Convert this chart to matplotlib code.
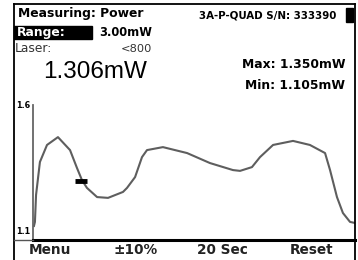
import matplotlib
matplotlib.use("Agg")
import matplotlib.pyplot as plt
from matplotlib.lines import Line2D

# trace (seconds, mW)
t_sec = [0.06, 0.12, 0.19, 0.43, 0.87, 1.55, 2.30, 2.73, 3.04, 3.35, 3.98, 4.66,
         5.59, 5.84, 6.34, 6.77, 7.08, 8.07, 9.57, 10.99, 12.42, 12.86, 13.60,
         14.10, 14.91, 16.15, 17.20, 18.14, 18.45, 18.88, 19.25, 19.69, 20.0]
power_mw = [1.152, 1.167, 1.267, 1.389, 1.452, 1.481, 1.433, 1.367, 1.322, 1.293,
            1.259, 1.256, 1.278, 1.293, 1.333, 1.407, 1.433, 1.444, 1.422, 1.385,
            1.359, 1.356, 1.370, 1.407, 1.452, 1.467, 1.452, 1.422, 1.359, 1.259,
            1.200, 1.167, 1.163]
cursor_t, cursor_v = 3.0, 1.32
y_min, y_max = 1.1, 1.6
window_sec = 20

reading = "1.306mW"
max_txt = "Max: 1.350mW"
min_txt = "Min: 1.105mW"
softkeys = ["Menu", "\u00b110%", "20 Sec", "Reset"]
softkey_x = [50, 136, 222, 312]

W, H = 358, 260
LCD = "DejaVu Sans"
BIG = "Liberation Sans"


def fx(x):
    return x / W


def fy(y):
    return 1 - y / H


fig = plt.figure(figsize=(W / 100, H / 100), dpi=100)
fig.patch.set_facecolor("white")

# screen frame
for xs, ys, lw, c in [
    ((14, 14), (4, 260), 1.3, "black"),
    ((14, 355), (4, 4), 1.3, "black"),
    ((355, 355), (4, 260), 1.3, "black"),
    ((14, 33), (240, 240), 1.0, "#555555"),
]:
    fig.add_artist(Line2D([fx(v) for v in xs], [fy(v) for v in ys],
                          color=c, lw=lw, transform=fig.transFigure))

ax = fig.add_axes([fx(33), fy(240), fx(355) - fx(33), (240 - 105) / H])
ax.plot(t_sec, power_mw, color="#5e5e5e", lw=1.5, solid_joinstyle="round")
ax.plot([cursor_t], [cursor_v], marker="_", color="black", ms=8, mew=3.5)
ax.set_xlim(0, window_sec)
ax.set_ylim(y_min, y_max)
ax.set_xticks([])
ax.set_yticks([])
for s in ["top", "right"]:
    ax.spines[s].set_visible(False)
ax.spines["left"].set_color("#666666")
ax.spines["left"].set_linewidth(1.3)
ax.spines["bottom"].set_color("black")
ax.spines["bottom"].set_linewidth(2.2)
ax.patch.set_alpha(0)

# y scale labels
fig.text(fx(16), fy(105), f"{y_max:.1f}", fontsize=5.8, fontweight="bold",
         family=LCD, va="center", ha="left")
fig.text(fx(16), fy(232), f"{y_min:.1f}", fontsize=5.8, fontweight="bold",
         family=LCD, va="center", ha="left")

# header
fig.text(fx(18), fy(14), "Measuring: Power", fontsize=8.9, fontweight="bold",
         family=LCD, va="center", ha="left")
fig.add_artist(plt.Rectangle((fx(14), fy(39)), fx(92) - fx(14), (39 - 26) / H,
                             color="black", transform=fig.transFigure, zorder=0))
fig.text(fx(17), fy(32.5), "Range:", fontsize=8.9, fontweight="bold",
         family=LCD, va="center", ha="left", color="white")
fig.text(fx(152), fy(32.5), "3.00mW", fontsize=8.3, fontweight="bold",
         family=LCD, va="center", ha="right")
fig.text(fx(15), fy(49), "Laser:", fontsize=8.8, family=LCD,
         va="center", ha="left", color="#333333")
fig.text(fx(152), fy(49), "<800", fontsize=8.2, family=LCD,
         va="center", ha="right", color="#333333")
fig.text(fx(95), fy(72), reading, fontsize=17.5, family=BIG,
         va="center", ha="center")

fig.text(fx(336), fy(15), "3A-P-QUAD S/N: 333390", fontsize=7.4,
         fontweight="bold", family=LCD, va="center", ha="right")
fig.add_artist(plt.Rectangle((fx(346), fy(22)), fx(353) - fx(346), (22 - 8) / H,
                             color="black", transform=fig.transFigure))
fig.text(fx(345), fy(64), max_txt, fontsize=8.9, fontweight="bold",
         family=LCD, va="center", ha="right")
fig.text(fx(345), fy(86), min_txt, fontsize=8.9, fontweight="bold",
         family=LCD, va="center", ha="right")

for lbl, x in zip(softkeys, softkey_x):
    fig.text(fx(x), fy(250), lbl, fontsize=9.8, fontweight="bold",
             family=LCD, va="center", ha="center", color="#222222")

fig.savefig("out.png", dpi=100)
